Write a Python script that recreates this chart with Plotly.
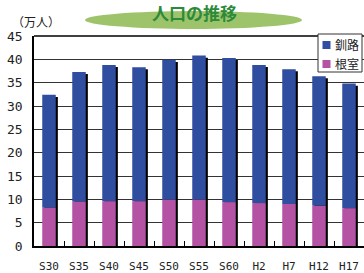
import plotly.graph_objects as go

categories = ["S30", "S35", "S40", "S45", "S50", "S55", "S60", "H2", "H7", "H12", "H17"]
nemuro = [8.2, 9.5, 9.6, 9.6, 9.9, 9.9, 9.4, 9.2, 9.0, 8.6, 8.1]
kushiro = [24.2, 27.8, 29.2, 28.7, 30.0, 30.9, 30.9, 29.6, 28.9, 27.8, 26.7]
y_ticks = [0, 5, 10, 15, 20, 25, 30, 35, 40, 45]
series_names = ["釧路", "根室"]

totals = [a + b for a, b in zip(nemuro, kushiro)]
shadow_drop = 0.45

BLUE = "#2f4e9f"
PINK = "#b452a4"
W = 0.45

# plot area in pixels: left 34, right 364, top 36, bottom 246
PL, PR, PT, PB = 34, 364, 36, 246
def px(x):
    return (x - PL) / (PR - PL)
def py(y):
    return (PB - y) / (PB - PT)

fig = go.Figure()
fig.add_trace(go.Bar(
    x=categories, y=[t - shadow_drop for t in totals], base=0,
    width=W, offset=-W / 2 + 0.07, marker=dict(color="black", line=dict(width=0)),
    showlegend=False, hoverinfo="skip"))
fig.add_trace(go.Bar(
    x=categories, y=kushiro, base=nemuro, name=series_names[0],
    width=W, offset=-W / 2, marker=dict(color=BLUE, line=dict(width=0)),
    showlegend=False))
fig.add_trace(go.Bar(
    x=categories, y=nemuro, base=0, name=series_names[1],
    width=W, offset=-W / 2, marker=dict(color=PINK, line=dict(width=0)),
    showlegend=False))

shapes = [
    dict(type="circle", xref="paper", yref="paper", x0=px(85), x1=px(302),
         y0=py(29), y1=py(11), fillcolor="#9dc46b", line=dict(width=0), layer="below"),
    dict(type="line", xref="paper", yref="paper", x0=0, x1=1, y0=1, y1=1,
         line=dict(color="black", width=1.5)),
    # legend box
    dict(type="rect", xref="paper", yref="paper", x0=px(318), x1=px(362),
         y0=py(72), y1=py(34), fillcolor="white", line=dict(color="#333", width=1),
         layer="above"),
]
annotations = [
    dict(text="<b>人口の推移</b>", xref="paper", yref="paper", x=px(194), y=py(13),
         xanchor="center", yanchor="middle",
         showarrow=False, font=dict(family="Noto Sans CJK JP", size=17, color="#2c8a3a")),
    dict(text="（万人）", xref="paper", yref="paper", x=px(36), y=py(21),
         xanchor="center", yanchor="middle", showarrow=False,
         font=dict(family="Noto Sans CJK JP", size=12, color="#222")),
]
for i, (name, col) in enumerate(zip(series_names, [BLUE, PINK])):
    cy = 45 + i * 19
    shapes.append(dict(type="rect", xref="paper", yref="paper", x0=px(322.5), x1=px(330.5),
                       y0=py(cy + 4), y1=py(cy - 4), fillcolor=col, line=dict(width=0),
                       layer="above"))
    annotations.append(dict(text=name, xref="paper", yref="paper", x=px(333), y=py(cy),
                            xanchor="left", yanchor="middle", showarrow=False,
                            font=dict(family="Noto Sans CJK JP", size=12, color="#222")))

fig.update_layout(
    width=364, height=273,
    margin=dict(l=PL, r=364 - PR, t=PT, b=273 - PB),
    barmode="overlay",
    plot_bgcolor="white", paper_bgcolor="white",
    font=dict(family="DejaVu Sans Mono", size=12, color="#222"),
    showlegend=False,
    xaxis=dict(type="category", showline=True, linecolor="black", linewidth=1.5,
               ticks="inside", tickson="boundaries", ticklen=5, tickcolor="black",
               showgrid=False, tickfont=dict(family="DejaVu Sans Mono", size=11),
               range=[-0.5, 10.5], automargin=False, ticklabelstandoff=9),
    yaxis=dict(range=[0, 45], tickvals=y_ticks, showline=True, linecolor="black",
               linewidth=1.5, showgrid=True, gridcolor="#333",
               gridwidth=1, ticks="", tickfont=dict(family="DejaVu Sans Mono", size=13),
               zeroline=False, automargin=False, ticklabelstandoff=7),
    shapes=shapes,
    annotations=annotations,
)

fig.write_html("out.html", config={"displayModeBar": False},
               post_script="document.body.style.margin='0';document.body.style.overflow='hidden';")
